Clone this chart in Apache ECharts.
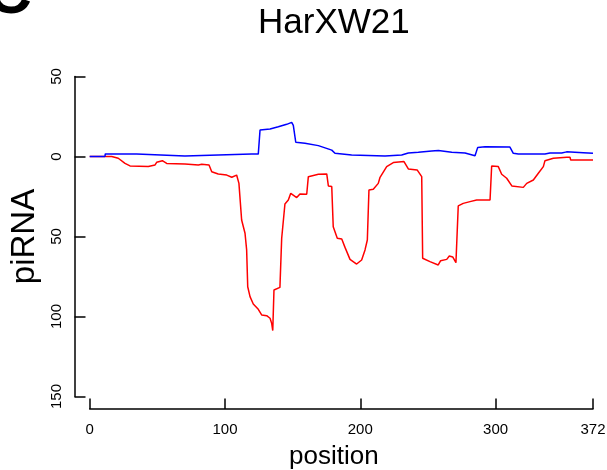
<!DOCTYPE html>
<html>
<head>
<meta charset="utf-8">
<script src="https://cdn.jsdelivr.net/npm/echarts@6/dist/echarts.min.js"></script>
<style>html,body{margin:0;padding:0;background:#fff}#c{width:607px;height:470px}</style>
</head>
<body>
<div id="c"></div>
<script>
// Blue (positive) piRNA coverage along position
const bluePos = [0, 11.3, 11.5, 34.7, 35.5, 70.4, 95, 119.7, 124.6, 125.9, 133.3, 139.4, 145.6, 149.3, 150.5, 152.3, 159.1, 169, 178.9, 181.3, 193.6, 218.3, 230.6, 235.5, 242.9, 252.8, 257.7, 267.6, 277.4, 284.8, 286.8, 292.2, 310.6, 313.1, 316.8, 336.5, 340.2, 348.9, 352.5, 364.8, 372];
const blueVal = [0, 0, 1.6, 1.6, 0.5, 0.3, 0.9, 1.5, 1.5, 16.6, 17.2, 18.6, 20.1, 21.3, 19.5, 8.9, 8.3, 6.8, 4, 2, 0.9, 0.3, 0.9, 2.2, 2.6, 3.4, 3.8, 2.6, 2.2, 0.5, 5.7, 6.1, 5.9, 2, 1.5, 1.5, 2.2, 2.2, 2.9, 2.4, 2];
// Red (negative) piRNA coverage along position
const redPos = [0, 16.3, 21.1, 26.1, 29.8, 43.3, 48.3, 49.5, 53.7, 56.9, 70.4, 80.3, 81.5, 82.8, 88.2, 90.2, 95, 101.3, 105, 108.6, 110.3, 112.3, 114.8, 116, 116.8, 118.5, 120.9, 124.6, 127.1, 130.8, 133.3, 134.5, 135.3, 136.2, 140.6, 141.9, 143.1, 144.3, 146.8, 148.6, 153, 155.4, 160.4, 161.6, 169, 175.2, 176.4, 178.9, 180, 183, 186.3, 188.7, 192.4, 197.3, 201, 203.5, 205.2, 206.4, 209.6, 213.3, 214.6, 219.5, 224.4, 232.3, 235.5, 242, 245.4, 246.1, 251.5, 257.6, 259.4, 263.9, 265.8, 268.3, 270.7, 272.4, 276.1, 281.1, 286, 295.9, 297.1, 302, 304.5, 308.2, 312, 320.5, 323, 327.9, 331.6, 335.3, 336.5, 342.7, 352.6, 355, 355.5, 372];
const redVal = [0, 0, -1.1, -4.3, -5.9, -6.3, -5.3, -3.6, -2.6, -4.3, -4.7, -5.3, -6.3, -4.9, -5.3, -9.5, -10.9, -11.6, -13, -11.6, -16.8, -39.7, -48, -58.4, -81.4, -87.6, -92.2, -95.5, -99, -99.5, -101.1, -104.3, -108.8, -83.4, -81.8, -51.1, -50, -29.7, -27.2, -23, -25.7, -23.4, -23.6, -12.6, -11.1, -10.9, -18.4, -18.8, -43.9, -51.1, -51.6, -56.8, -64.3, -67.2, -64.7, -58.4, -52.2, -20.9, -20.5, -16.8, -13, -6.3, -3.8, -3.2, -7.8, -8.4, -12.6, -63.6, -65.7, -67.8, -65.1, -64.3, -62.2, -62.8, -66.4, -30.9, -29.3, -28.2, -27.2, -27.2, -5.9, -6.3, -11.1, -13.6, -18.4, -19.3, -16.8, -14.7, -10.5, -6.3, -2.6, -1.1, -0.5, -0.5, -2.2, -2.2];
const xTicks = [0, 100, 200, 300, 372];
const yTicks = [50, 0, -50, -100, -150];

const zip = (a, b) => a.map((v, i) => [v, b[i]]);
const FONT = 'Liberation Sans, Arial, Helvetica, sans-serif';

const chart = echarts.init(document.getElementById('c'), null, {renderer: 'canvas'});
chart.setOption({
  animation: false,
  backgroundColor: '#ffffff',
  title: {
    text: 'HarXW21',
    left: 258, top: 6, padding: 0,
    textStyle: {fontFamily: FONT, fontSize: 35, fontWeight: 'normal', color: '#000'}
  },
  graphic: [{
    type: 'text', left: -13, top: -35,
    style: {text: 'C', font: 'bold 62px ' + FONT, fill: '#000'}
  }],
  grid: {left: 89.7, right: 14, top: 76.5, bottom: 73.5, containLabel: false, outerBoundsMode: 'none'},
  xAxis: {
    type: 'value', min: 0, max: 372,
    offset: 12.5,
    name: 'position', nameLocation: 'middle', nameGap: 35,
    nameTextStyle: {fontFamily: FONT, fontSize: 26, color: '#000', padding: [0, 15, 0, 0]},
    axisLine: {show: true, onZero: false, lineStyle: {color: '#000', width: 1.5}},
    axisTick: {show: true, inside: true, length: 10.5, customValues: xTicks, lineStyle: {color: '#000', width: 1.5}},
    axisLabel: {customValues: xTicks, margin: 13, fontFamily: FONT, fontSize: 15, color: '#000'},
    splitLine: {show: false}
  },
  yAxis: {
    type: 'value', min: -150, max: 50, interval: 50,
    offset: 15.2,
    name: 'piRNA', nameLocation: 'middle', nameGap: 32, nameRotate: 90,
    nameTextStyle: {fontFamily: FONT, fontSize: 33, color: '#000'},
    axisLine: {show: true, onZero: false, lineStyle: {color: '#000', width: 1.5}},
    axisTick: {show: true, inside: true, length: 11, customValues: yTicks, lineStyle: {color: '#000', width: 1.5}},
    axisLabel: {customValues: yTicks, rotate: 90, margin: 10, fontFamily: FONT, fontSize: 15, color: '#000',
      formatter: v => String(Math.abs(v))},
    splitLine: {show: false}
  },
  series: [
    {type: 'line', data: zip(redPos, redVal), showSymbol: false, lineStyle: {color: '#ff0000', width: 1.5}, itemStyle: {color: '#ff0000'}},
    {type: 'line', data: zip(bluePos, blueVal), showSymbol: false, lineStyle: {color: '#0000ff', width: 1.5}, itemStyle: {color: '#0000ff'}}
  ]
});
</script>
</body>
</html>
